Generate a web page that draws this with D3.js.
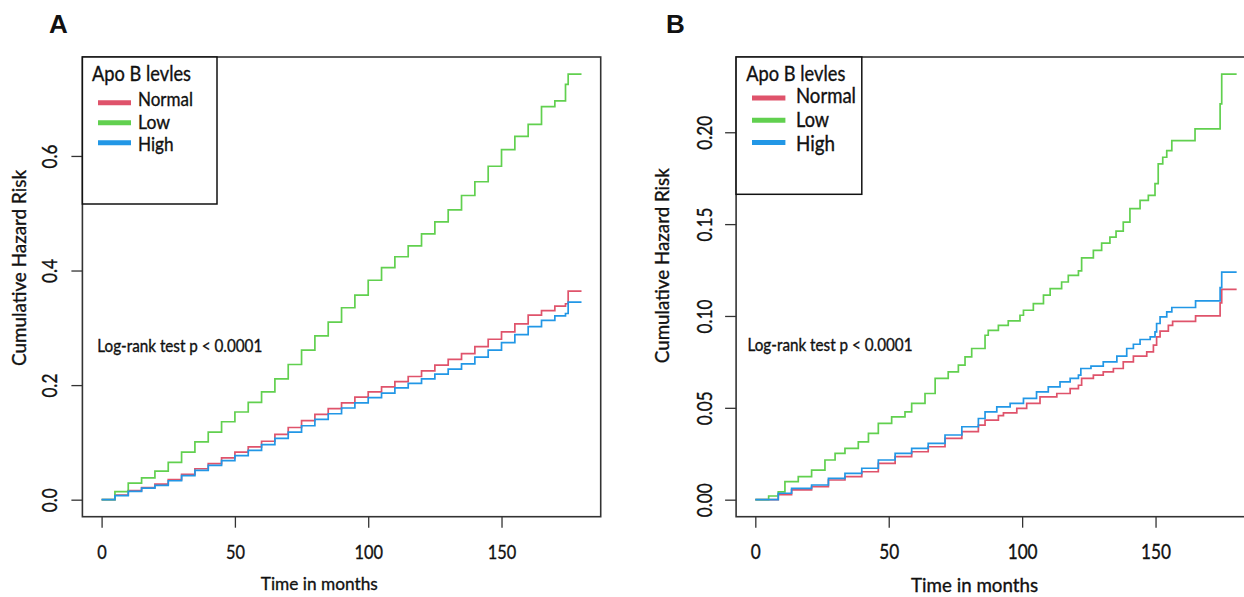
<!DOCTYPE html>
<html>
<head>
<meta charset="utf-8">
<script src="https://cdn.jsdelivr.net/npm/d3@7"></script>
<style>
  body { margin: 0; background: #fff; }
  svg { display: block; }
  text { font-family: Lato, "Open Sans", sans-serif; fill: #111; stroke: #111; stroke-width: 0.35px; }
</style>
</head>
<body>
<svg id="chart" width="1244" height="597"></svg>
<script>
// ---- Series definitions -------------------------------------------------
const groups = ["Normal", "Low", "High"];
const groupColors = ["#DF536B", "#61D04F", "#2297E6"];
const legendTitle = "Apo B levles";
const pText = "Log-rank test p < 0.0001";
const xTitle = "Time in months";
const yTitle = "Cumulative Hazard Risk";

// Panel A: cumulative hazard by month
const timesA = [0, 5, 10, 15, 20, 25, 30, 35, 40, 45, 50, 55, 60, 65, 70, 75, 80, 85, 90,
  95, 100, 105, 110, 115, 120, 125, 130, 135, 140, 145, 150, 155, 160, 165, 170, 174, 175, 180];
const normalA = [0, 0.008, 0.0157, 0.021, 0.027, 0.035, 0.044, 0.054, 0.063, 0.073, 0.083,
  0.092, 0.102, 0.114, 0.126, 0.138, 0.149, 0.159, 0.169, 0.179, 0.188, 0.197, 0.206, 0.215,
  0.225, 0.235, 0.245, 0.255, 0.267, 0.280, 0.293, 0.307, 0.322, 0.330, 0.338, 0.342, 0.364, 0.364];
const lowA = [0, 0.014, 0.029, 0.038, 0.050, 0.065, 0.083, 0.101, 0.118, 0.136, 0.153,
  0.170, 0.188, 0.211, 0.236, 0.261, 0.286, 0.310, 0.335, 0.357, 0.383, 0.405, 0.424, 0.443,
  0.464, 0.485, 0.506, 0.531, 0.555, 0.582, 0.611, 0.634, 0.655, 0.686, 0.696, 0.725, 0.743, 0.743];
const highA = [0, 0.007, 0.0145, 0.020, 0.025, 0.033, 0.042, 0.051, 0.060, 0.068, 0.077,
  0.086, 0.096, 0.107, 0.118, 0.129, 0.140, 0.150, 0.160, 0.169, 0.178, 0.186, 0.195, 0.203,
  0.211, 0.219, 0.228, 0.237, 0.249, 0.261, 0.274, 0.288, 0.302, 0.313, 0.321, 0.325, 0.345, 0.345];

// Panel B: cumulative hazard at event times
const normalBTimes = [0, 8.6, 13.6, 21.1, 27.4, 33.6, 39.9, 46.1, 52.4, 58.6, 64.8, 71.1, 77.4,
  83.6, 86.1, 91.1, 93, 98, 101.7, 106.7, 113, 118, 121.1, 122.3, 126.7, 130.4, 134.2, 137.9,
  141.7, 146.7, 149.2, 150.4, 151.7, 154.8, 156.4, 165, 174.2, 174.8, 180.4];
const normalB = [0, 0.0027, 0.0053, 0.0071, 0.0107, 0.0125, 0.0152, 0.0198, 0.0234, 0.0261,
  0.0288, 0.0334, 0.037, 0.0406, 0.0433, 0.0457, 0.0473, 0.0497, 0.0524, 0.056, 0.0578, 0.0605,
  0.0623, 0.066, 0.0678, 0.0696, 0.0714, 0.075, 0.0781, 0.0804, 0.0841, 0.0886, 0.0918, 0.0949,
  0.0971, 0.1, 0.1071, 0.1145, 0.1145];
const lowBTimes = [0, 5, 8.6, 11.1, 16.1, 21.1, 26.1, 29.9, 33.6, 38.6, 42.4, 46.1, 51.1, 56.1,
  58.6, 63.6, 67.4, 72.3, 76.1, 78.6, 81.1, 86.1, 87.3, 91.1, 94.8, 99.2, 100.5, 104.2, 108,
  110.5, 114.8, 117.3, 121.1, 122.3, 126.7, 129.8, 132.9, 135.2, 137.9, 140.4, 144.2, 147.3,
  149.8, 151, 152.7, 154.2, 156.1, 164.8, 174.2, 174.8, 180.4];
const lowB = [0, 0.002, 0.0043, 0.0098, 0.0125, 0.0161, 0.0216, 0.0252, 0.0279, 0.0315, 0.0361,
  0.0415, 0.0451, 0.0478, 0.0524, 0.0578, 0.066, 0.0696, 0.0732, 0.0777, 0.0823, 0.0895, 0.0922,
  0.0949, 0.0973, 0.1004, 0.1031, 0.1067, 0.1113, 0.1149, 0.1185, 0.1221, 0.1245, 0.1316,
  0.1357, 0.1397, 0.1429, 0.1462, 0.1511, 0.1584, 0.1629, 0.1656, 0.172, 0.1828, 0.1864, 0.19,
  0.1955, 0.2018, 0.2154, 0.2317, 0.2317];
const highBTimes = [0, 8.6, 13.6, 21.1, 27.4, 33.6, 39.9, 46.1, 52.4, 58.6, 64.8, 71.1, 77.4,
  83.6, 86.1, 90.5, 95.5, 100.5, 105.4, 109.8, 114.2, 118, 121.1, 122, 125.8, 130.4, 135.5,
  139.2, 141.7, 144.2, 148, 149.8, 150.4, 151.7, 154.2, 156.1, 165, 174.2, 174.8, 180.4];
const highB = [0, 0.0035, 0.0062, 0.008, 0.0116, 0.0143, 0.0171, 0.0216, 0.0252, 0.0279,
  0.0307, 0.0352, 0.0397, 0.0442, 0.0478, 0.0505, 0.0524, 0.0551, 0.0587, 0.0614, 0.0641, 0.066,
  0.0678, 0.0714, 0.0727, 0.075, 0.0781, 0.0823, 0.0846, 0.0872, 0.0886, 0.0913, 0.0959, 0.0995,
  0.1022, 0.1046, 0.1082, 0.1154, 0.1239, 0.1239];

// Axis ticks
const xTicks = [0, 50, 100, 150];
const yTicksA = [0, 0.2, 0.4, 0.6];
const yTicksB = [0, 0.05, 0.10, 0.15, 0.20];

// ---- Panel layout ---------------------------------------------------------
const panels = [
  {
    letter: "A", letterX: 49,
    box: { x0: 82.4, x1: 600.7, y0: 57, y1: 516.7 },
    series: [
      { times: timesA, values: normalA },
      { times: timesA, values: lowA },
      { times: timesA, values: highA }
    ],
    yTicks: yTicksA, yFmt: ".1f",
    legend: { w: 134.6, h: 147, titleX: 92, lineX0: 98, lineX1: 131, lineY0: 102.7, lineStep: 20,
              textX: 138, textY0: 106, textStep: 22.5, size: 19.5, lens: [55, 32, 35.6] },
    pTextX: 97.3, pTextY: 351.5, pSize: 16.5,
    xLabel: { cx: 319.3, y: 590, size: 18, len: 117 },
    yLabel: { x: 26, cy: 268, len: 196 },
    tickSize: 19.5, yTickBase: 25.1
  },
  {
    letter: "B", letterX: 666,
    box: { x0: 736.1, x1: 1254.8, y0: 57, y1: 516.7 },
    series: [
      { times: normalBTimes, values: normalB },
      { times: lowBTimes, values: lowB },
      { times: highBTimes, values: highB }
    ],
    yTicks: yTicksB, yFmt: ".2f",
    legend: { w: 125.7, h: 137.3, titleX: 746.3, lineX0: 752, lineX1: 785.4, lineY0: 98, lineStep: 22.3,
              textX: 796, textY0: 102.6, textStep: 24.2, size: 20.5, lens: [60, 33, 39] },
    pTextX: 747.5, pTextY: 351.2, pSize: 16.5,
    xLabel: { cx: 974.6, y: 592, size: 19, len: 127 },
    yLabel: { x: 668.5, cy: 265.7, len: 195 },
    tickSize: 20.5, yTickBase: 23.9
  }
];

const svg = d3.select("#chart");
svg.append("rect").attr("width", 1244).attr("height", 597).attr("fill", "#fff");

const fitText = (sel, len) => sel.attr("textLength", len).attr("lengthAdjust", "spacingAndGlyphs");

panels.forEach(p => {
  const b = p.box;
  const g = svg.append("g");

  // R-style 4% padding around the data range
  const vMax = d3.max(p.series, s => d3.max(s.values));
  const tPad = 0.04 * 180;
  const x = d3.scaleLinear().domain([-tPad, 180 + tPad]).range([b.x0, b.x1]);
  const y = d3.scaleLinear().domain([-0.04 * vMax, vMax * 1.04]).range([b.y1, b.y0]);

  // curves
  const line = d3.line().curve(d3.curveStepAfter).x(d => x(d[0])).y(d => y(d[1]));
  p.series.forEach((s, i) => {
    g.append("path")
      .datum(s.times.map((t, k) => [t, s.values[k]]))
      .attr("d", line)
      .attr("fill", "none")
      .attr("stroke", groupColors[i])
      .attr("stroke-width", 1.7);
  });

  // bottom axis
  const xAxis = g.append("g")
    .attr("transform", `translate(0,${b.y1})`)
    .call(d3.axisBottom(x).tickValues(xTicks).tickSize(11).tickFormat(d3.format("d")));
  xAxis.select(".domain").remove();
  xAxis.selectAll(".tick line").attr("stroke", "#333").attr("stroke-width", 1.3);
  xAxis.selectAll(".tick text")
    .attr("y", 42).attr("dy", 0)
    .attr("transform", "scale(0.84,1)")
    .style("font-family", "Lato, sans-serif")
    .style("font-size", p.tickSize + "px")
    .attr("fill", "#111");

  // left axis, labels parallel to the axis
  const yAxis = g.append("g")
    .attr("transform", `translate(${b.x0},0)`)
    .call(d3.axisLeft(y).tickValues(p.yTicks).tickSize(11).tickFormat(d3.format(p.yFmt)));
  yAxis.select(".domain").remove();
  yAxis.selectAll(".tick line").attr("stroke", "#333").attr("stroke-width", 1.3);
  yAxis.selectAll(".tick text")
    .attr("x", 0).attr("y", 0).attr("dy", 0)
    .attr("text-anchor", "middle")
    .attr("transform", `translate(${-p.yTickBase},0) rotate(-90) scale(0.82,1)`)
    .style("font-family", "Lato, sans-serif")
    .style("font-size", "21px")
    .attr("fill", "#111");

  // plot frame
  g.append("rect")
    .attr("x", b.x0).attr("y", b.y0)
    .attr("width", b.x1 - b.x0).attr("height", b.y1 - b.y0)
    .attr("fill", "none").attr("stroke", "#333").attr("stroke-width", 1.6);

  // legend
  const L = p.legend;
  g.append("rect")
    .attr("x", b.x0).attr("y", b.y0).attr("width", L.w).attr("height", L.h)
    .attr("fill", "#fff").attr("stroke", "#111").attr("stroke-width", 1.5);
  fitText(g.append("text").attr("x", L.titleX).attr("y", 80.5)
    .style("font-size", "20.5px").text(legendTitle), 99);
  groups.forEach((name, i) => {
    const ly = L.lineY0 + i * L.lineStep;
    g.append("line")
      .attr("x1", L.lineX0).attr("x2", L.lineX1).attr("y1", ly).attr("y2", ly)
      .attr("stroke", groupColors[i]).attr("stroke-width", 5);
    fitText(g.append("text")
      .attr("x", L.textX).attr("y", L.textY0 + i * L.textStep)
      .style("font-size", L.size + "px").text(name), L.lens[i]);
  });

  // test annotation
  fitText(g.append("text").attr("x", p.pTextX).attr("y", p.pTextY)
    .style("font-size", p.pSize + "px").text(pText), 165);

  // axis titles
  fitText(g.append("text")
    .attr("x", p.xLabel.cx).attr("y", p.xLabel.y).attr("text-anchor", "middle")
    .style("font-size", p.xLabel.size + "px").text(xTitle), p.xLabel.len);
  fitText(g.append("text")
    .attr("transform", `translate(${p.yLabel.x},${p.yLabel.cy}) rotate(-90)`)
    .attr("text-anchor", "middle")
    .style("font-size", "19px").text(yTitle), p.yLabel.len);

  // panel letter
  g.append("text")
    .attr("x", p.letterX).attr("y", 32.7)
    .style("font-family", "'Liberation Sans', Arial, sans-serif")
    .style("font-weight", "bold").style("font-size", "26px")
    .style("stroke", "none")
    .text(p.letter);
});
</script>
</body>
</html>
